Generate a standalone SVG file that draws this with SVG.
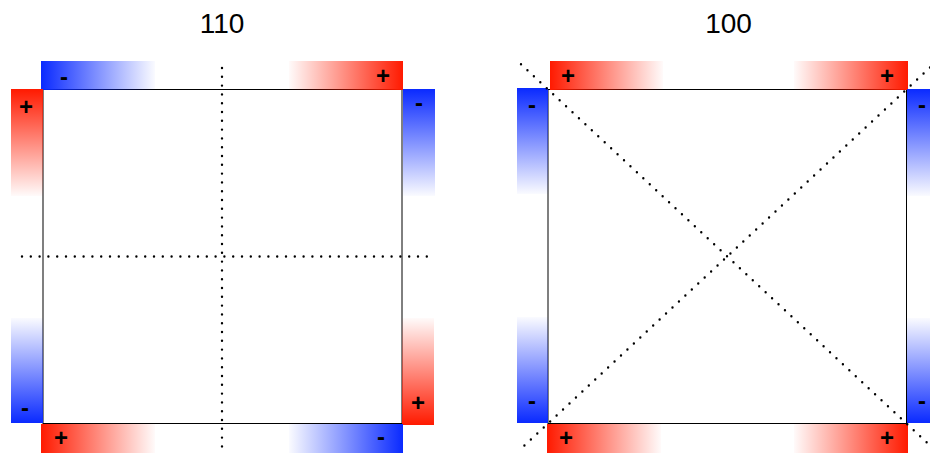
<svg xmlns="http://www.w3.org/2000/svg" width="930" height="453" viewBox="0 0 930 453">
<style>
.title{font-family:"Liberation Sans",Arial,sans-serif;font-size:28px;fill:#000;text-anchor:middle}
.sym{font-family:"Liberation Sans",Arial,sans-serif;font-size:24px;font-weight:bold;fill:#000;text-anchor:middle}
.edge{fill:none;stroke:#000;stroke-width:1}
.dot{fill:none;stroke:#000;stroke-width:2.4;stroke-linecap:round;stroke-dasharray:0 8.8}
</style>
<defs>
<linearGradient id="rL" x1="0" y1="0" x2="1" y2="0"><stop offset="0" stop-color="#ff1a00"/><stop offset="1" stop-color="#ff1a00" stop-opacity="0.02"/></linearGradient>
<linearGradient id="rR" x1="1" y1="0" x2="0" y2="0"><stop offset="0" stop-color="#ff1a00"/><stop offset="1" stop-color="#ff1a00" stop-opacity="0.02"/></linearGradient>
<linearGradient id="rT" x1="0" y1="0" x2="0" y2="1"><stop offset="0" stop-color="#ff1a00"/><stop offset="1" stop-color="#ff1a00" stop-opacity="0.02"/></linearGradient>
<linearGradient id="rB" x1="0" y1="1" x2="0" y2="0"><stop offset="0" stop-color="#ff1a00"/><stop offset="1" stop-color="#ff1a00" stop-opacity="0.02"/></linearGradient>
<linearGradient id="bL" x1="0" y1="0" x2="1" y2="0"><stop offset="0" stop-color="#0a2aff"/><stop offset="1" stop-color="#0a2aff" stop-opacity="0.02"/></linearGradient>
<linearGradient id="bR" x1="1" y1="0" x2="0" y2="0"><stop offset="0" stop-color="#0a2aff"/><stop offset="1" stop-color="#0a2aff" stop-opacity="0.02"/></linearGradient>
<linearGradient id="bT" x1="0" y1="0" x2="0" y2="1"><stop offset="0" stop-color="#0a2aff"/><stop offset="1" stop-color="#0a2aff" stop-opacity="0.02"/></linearGradient>
<linearGradient id="bB" x1="0" y1="1" x2="0" y2="0"><stop offset="0" stop-color="#0a2aff"/><stop offset="1" stop-color="#0a2aff" stop-opacity="0.02"/></linearGradient>
</defs>
<rect width="930" height="453" fill="#fff"/>

<g id="panel-110">
<text class="title" x="222" y="33">110</text>
<rect class="edge" x="43" y="89.5" width="359" height="334"/>
<g id="l-top-left"><rect x="41" y="61" width="114" height="29" fill="url(#bL)"/><text class="sym" x="64" y="84.5">-</text></g>
<g id="l-left-top"><rect x="11" y="89" width="32" height="107" fill="url(#rT)"/><text class="sym" x="26" y="115">+</text></g>
<g id="l-top-right"><rect x="289" y="61" width="114" height="29" fill="url(#rR)"/><text class="sym" x="383" y="84">+</text></g>
<g id="l-right-top"><rect x="403" y="89" width="32" height="107" fill="url(#bT)"/><text class="sym" x="419" y="110.5">-</text></g>
<g id="l-left-bottom"><rect x="11" y="318" width="32" height="105" fill="url(#bB)"/><text class="sym" x="25" y="415.5">-</text></g>
<g id="l-bottom-left"><rect x="41" y="424" width="114" height="29" fill="url(#rL)"/><text class="sym" x="61" y="446">+</text></g>
<g id="l-right-bottom"><rect x="402" y="318" width="32" height="107" fill="url(#rB)"/><text class="sym" x="418" y="411">+</text></g>
<g id="l-bottom-right"><rect x="289" y="424" width="114" height="29" fill="url(#bR)"/><text class="sym" x="381" y="444.5">-</text></g>
</g>

<g id="panel-100">
<text class="title" x="728.5" y="33">100</text>
<rect class="edge" x="548" y="89.5" width="358.5" height="334"/>
<g id="r-top-left"><rect x="550" y="61" width="113" height="29" fill="url(#rL)"/><text class="sym" x="568" y="84">+</text></g>
<g id="r-left-top"><rect x="517" y="88" width="31" height="106" fill="url(#bT)"/><text class="sym" x="532" y="112.5">-</text></g>
<g id="r-top-right"><rect x="794" y="61" width="114" height="29" fill="url(#rR)"/><text class="sym" x="887" y="84">+</text></g>
<g id="r-right-top"><rect x="907" y="89" width="32" height="107" fill="url(#bT)"/><text class="sym" x="922" y="112.5">-</text></g>
<g id="r-left-bottom"><rect x="517" y="317" width="31" height="106" fill="url(#bB)"/><text class="sym" x="532" y="408.5">-</text></g>
<g id="r-bottom-left"><rect x="547" y="424" width="114" height="29" fill="url(#rL)"/><text class="sym" x="566" y="446">+</text></g>
<g id="r-right-bottom"><rect x="907" y="318" width="32" height="105" fill="url(#bB)"/><text class="sym" x="922" y="408.5">-</text></g>
<g id="r-bottom-right"><rect x="794" y="424" width="114" height="29" fill="url(#rR)"/><text class="sym" x="887" y="446">+</text></g>
</g>

<g id="connectors">
<line class="dot" x1="222" y1="68" x2="222" y2="452"/>
<line class="dot" x1="22" y1="256.5" x2="432" y2="256.5"/>
<line class="dot" x1="521" y1="64.3" x2="932" y2="447.3"/>
<line class="dot" x1="930" y1="67.5" x2="520" y2="449.6"/>
</g>
</svg>
